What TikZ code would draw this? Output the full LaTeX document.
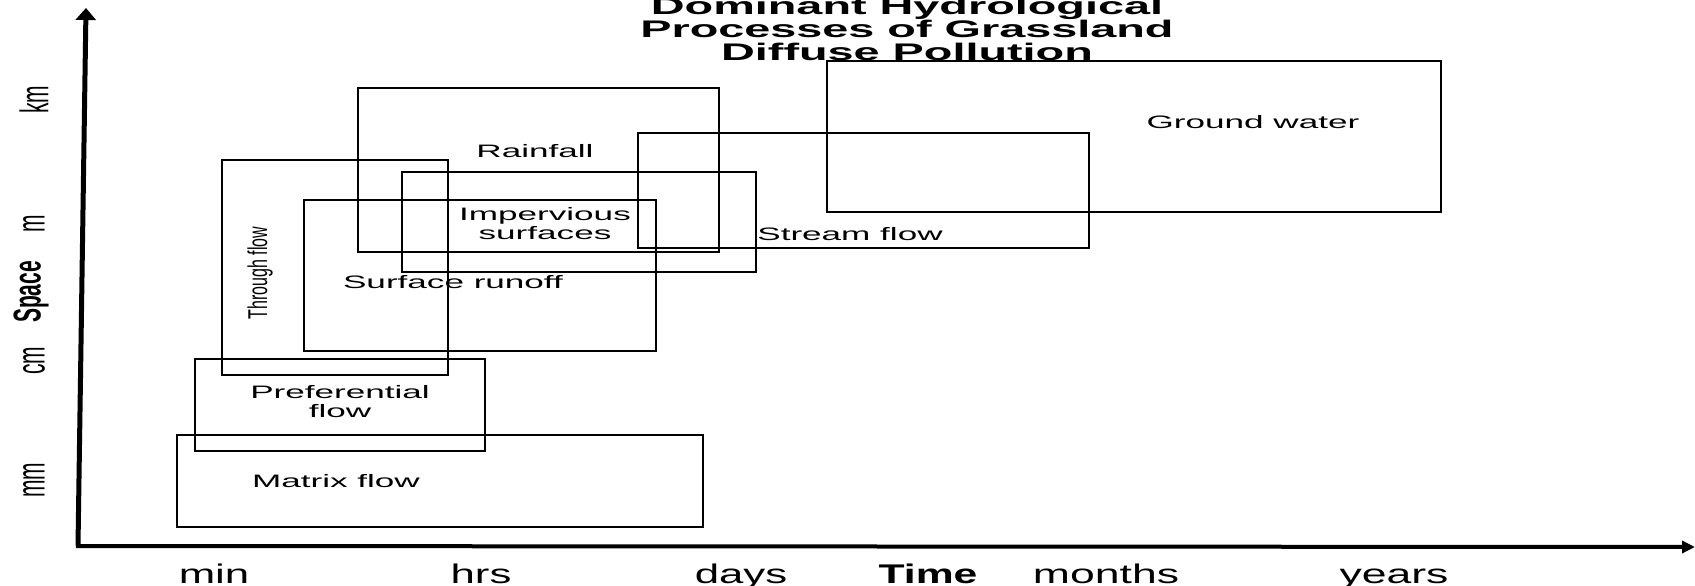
\documentclass[tikz,border=0pt]{standalone}
\usepackage{fontspec}
\setmainfont{Liberation Sans}
\usepackage{graphicx}
\usetikzlibrary{arrows.meta}
\newcommand{\hst}[2]{\scalebox{#1}[1]{#2}}
\newcommand{\vst}[2]{\scalebox{1}[#1]{#2}}
\begin{document}
\begin{tikzpicture}[x=1pt,y=-1pt,
  procbox/.style={draw=black, line width=1.8pt},
  boxlabel/.style={font=\fontsize{18}{19}\selectfont, inner sep=0pt, align=center},
  ticklabel/.style={font=\fontsize{27}{28}\selectfont, inner sep=0pt, anchor=base},
  sidelabel/.style={font=\fontsize{21}{22}\selectfont, inner sep=0pt, rotate=90},
  titleline/.style={font=\fontsize{24}{25}\selectfont\bfseries, inner sep=0pt, anchor=base},
  axisline/.style={draw=black}
]
\useasboundingbox (0,0) rectangle (1695,586);
\fill[white] (0,0) rectangle (1695,586);

% title
\node[titleline] (t1) at (907,15) {\hst{1.95}{Dominant Hydrological}};
\node[titleline] (t2) at (907,37.5) {\hst{1.95}{Processes of Grassland}};
\node[titleline] (t3) at (907,60) {\hst{1.95}{Diffuse Pollution}};

% axes
\coordinate (origin) at (78,546);
\coordinate (ytip) at (86,8);
\coordinate (xstart) at (76,546);
\coordinate (xtip) at (1695,547);
\draw[axisline, line width=5pt, -{Triangle[length=12pt,width=20pt]}] (origin) -- (ytip);
\draw[axisline, line width=4pt, -{Triangle[length=13pt,width=12pt]}] (xstart) -- (xtip);

% process boxes
\draw[procbox] (177,435) rectangle (703,527);
\draw[procbox] (195,359) rectangle (485,451);
\draw[procbox] (222,160) rectangle (448,375);
\draw[procbox] (304,200) rectangle (656,351);
\draw[procbox] (358,88) rectangle (719,252);
\draw[procbox] (402,172) rectangle (756,272);
\draw[procbox] (638,133) rectangle (1089,248);
\draw[procbox] (827,61) rectangle (1441,212);

% box labels
\node[boxlabel, anchor=base] (matrix) at (336,487) {\hst{1.95}{Matrix flow}};
\node[boxlabel] (pref) at (340,402) {\hst{1.95}{Preferential}\\\hst{1.95}{flow}};
\node[boxlabel, font=\fontsize{16}{17}\selectfont, rotate=90] (through) at (260,273) {\vst{1.7}{Through flow}};
\node[boxlabel, anchor=base] (surface) at (453,288) {\hst{1.95}{Surface runoff}};
\node[boxlabel, anchor=base] (rain) at (535,157) {\hst{1.95}{Rainfall}};
\node[boxlabel] (imperv) at (545,224) {\hst{1.95}{Impervious}\\\hst{1.95}{surfaces}};
\node[boxlabel, anchor=base] (stream) at (850,240) {\hst{1.95}{Stream flow}};
\node[boxlabel, anchor=base] (ground) at (1253,128) {\hst{1.95}{Ground water}};

% time axis labels
\node[ticklabel] (tmin) at (214,583) {\hst{1.62}{min}};
\node[ticklabel] (thrs) at (481,583) {\hst{1.62}{hrs}};
\node[ticklabel] (tdays) at (741,583) {\hst{1.62}{days}};
\node[ticklabel, font=\fontsize{27}{28}\selectfont\bfseries] (ttime) at (928,583) {\hst{1.58}{Time}};
\node[ticklabel] (tmonths) at (1106,583) {\hst{1.65}{months}};
\node[ticklabel] (tyears) at (1394,583) {\hst{1.65}{years}};

% space axis labels
\node[sidelabel] (skm) at (34,100) {\vst{1.9}{km}};
\node[sidelabel] (sm) at (34,224) {\vst{1.9}{m}};
\node[sidelabel, font=\fontsize{21}{22}\selectfont\bfseries] (sspace) at (31,292) {\vst{1.85}{Space}};
\node[sidelabel] (scm) at (34,361) {\vst{1.9}{cm}};
\node[sidelabel] (smm) at (34,480) {\vst{1.9}{mm}};
\end{tikzpicture}
\end{document}
